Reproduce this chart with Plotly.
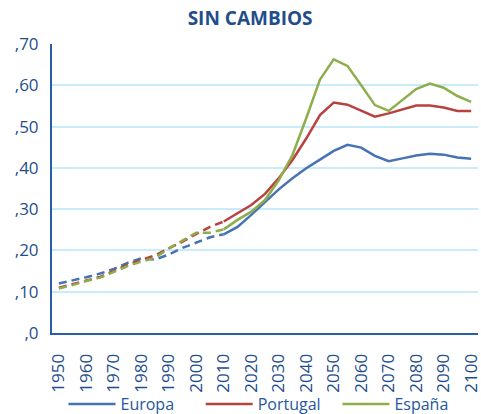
import plotly.graph_objects as go

years_hist = [1950, 1955, 1960, 1965, 1970, 1975, 1980, 1985, 1990, 1995, 2000, 2005, 2010]
europa_hist = [0.120, 0.127, 0.135, 0.144, 0.155, 0.170, 0.181, 0.178, 0.190, 0.206, 0.219, 0.232, 0.239]
portugal_hist = [0.110, 0.118, 0.127, 0.136, 0.150, 0.165, 0.177, 0.188, 0.205, 0.221, 0.240, 0.257, 0.270]
espana_hist = [0.108, 0.116, 0.126, 0.134, 0.148, 0.162, 0.173, 0.182, 0.205, 0.225, 0.243, 0.243, 0.251]

years_proj = [2010, 2015, 2020, 2025, 2030, 2035, 2040, 2045, 2050, 2055, 2060, 2065, 2070,
              2075, 2080, 2085, 2090, 2095, 2100]
europa_proj = [0.239, 0.257, 0.286, 0.316, 0.348, 0.375, 0.399, 0.420, 0.441, 0.456, 0.449,
               0.429, 0.416, 0.423, 0.430, 0.434, 0.432, 0.425, 0.422]
portugal_proj = [0.270, 0.290, 0.310, 0.337, 0.375, 0.419, 0.471, 0.528, 0.558, 0.553, 0.539,
                 0.524, 0.532, 0.542, 0.551, 0.551, 0.546, 0.538, 0.538]
espana_proj = [0.251, 0.274, 0.294, 0.322, 0.370, 0.431, 0.520, 0.614, 0.663, 0.647, 0.600,
               0.552, 0.538, 0.564, 0.591, 0.604, 0.594, 0.574, 0.560]

series_names = ["Europa", "Portugal", "España"]
colors = ["#4573B4", "#B8423F", "#8EAE4C"]

y_tickvals = [0, 0.1, 0.2, 0.3, 0.4, 0.5, 0.6, 0.7]
y_ticktext = [",0", ",10", ",20", ",30", ",40", ",50", ",60", ",70"]
x_tickvals = list(range(1950, 2101, 10))

text_color = "#1F4E8C"
font_family = "Open Sans, Noto Sans, sans-serif"

fig = go.Figure()
hist = [europa_hist, portugal_hist, espana_hist]
proj = [europa_proj, portugal_proj, espana_proj]
legend_ids = ["legend", "legend2", "legend3"]
for name, col, h in zip(series_names, colors, hist):
    fig.add_trace(go.Scatter(x=years_hist, y=h, mode="lines", showlegend=False,
                             line=dict(color=col, width=2.5, dash="8px,5px")))
for name, col, p, lg in zip(series_names, colors, proj, legend_ids):
    fig.add_trace(go.Scatter(x=years_proj, y=p, mode="lines", name=name, legend=lg,
                             line=dict(color=col, width=2.5)))

leg_common = dict(orientation="h", xanchor="left", y=-0.246, yanchor="middle",
                  font=dict(size=16, color="#2557A0"), itemwidth=47,
                  bgcolor="rgba(0,0,0,0)", borderwidth=0)
fig.update_layout(
    width=481, height=414,
    margin=dict(l=52, r=3, t=44, b=81, autoexpand=False),
    paper_bgcolor="white", plot_bgcolor="white",
    font=dict(family=font_family, color=text_color, size=16),
    title=dict(text="<b>SIN CAMBIOS</b>", x=0.52, xanchor="center", y=0.955, yanchor="middle",
               xref="container", font=dict(size=19, color=text_color)),
    showlegend=True,
    legend=dict(x=0.027, **leg_common),
    legend2=dict(x=0.349, **leg_common),
    legend3=dict(x=0.670, **leg_common),
)
fig.update_xaxes(range=[1947.5, 2102.5], tickvals=x_tickvals, tickangle=-90,
                 showgrid=False, zeroline=False, showline=True, linecolor="#2A5DA8",
                 linewidth=2, ticks="", automargin=False, ticklabeloverflow="allow",
                 ticklabelstandoff=12,
                 tickfont=dict(size=17, color=text_color))
fig.update_yaxes(range=[0, 0.7], tickvals=y_tickvals, ticktext=y_ticktext,
                 showgrid=True, gridcolor="#C8ECFA", gridwidth=1.5, zeroline=False,
                 showline=True, linecolor="#2A5DA8", linewidth=2, ticks="",
                 automargin=False, ticklabeloverflow="allow",
                 ticklabelstandoff=8, tickfont=dict(size=17, color=text_color))

fig.write_html("out.html", config={"displayModeBar": False},
               post_script="document.body.style.margin='0';document.body.style.overflow='hidden';")
